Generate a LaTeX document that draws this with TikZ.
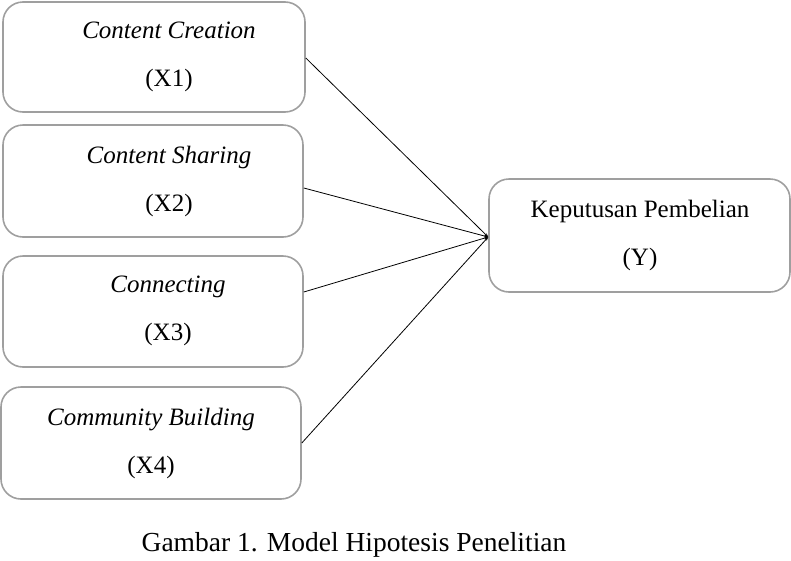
\documentclass[tikz,border=0pt]{standalone}
\usepackage{fontspec}
\setmainfont{Liberation Serif}
\usetikzlibrary{arrows.meta}
\begin{document}
\begin{tikzpicture}[
    x=1pt, y=-1pt,
    varbox/.style={draw=gray!75, line width=1.6pt, rounded corners=20pt,
        minimum width=300pt, minimum height=111pt, inner sep=0pt},
    vartext/.style={align=center, inner sep=0pt,
        font=\fontsize{25}{48}\selectfont},
    link/.style={-{Stealth[length=4pt,width=3pt]}, line width=0.8pt},
    every node/.style={font=\fontsize{25}{30}\selectfont}
]

\useasboundingbox (0,0) rectangle (791,560);

% variable boxes
\node[varbox, minimum width=302pt, minimum height=110pt] (x1) at (154,57) {};
\node[varbox, minimum height=112pt] (x2) at (153,181) {};
\node[varbox] (x3) at (153,311.5) {};
\node[varbox, minimum height=112pt] (x4) at (151,443) {};
\node[varbox, minimum width=301pt, minimum height=113pt] (y) at (639.5,235.5) {};

\node[vartext] (x1t) at (169,57) {\textit{Content Creation}\\(X1)};
\node[vartext] (x2t) at (169,181) {\textit{Content Sharing}\\(X2)};
\node[vartext] (x3t) at (168,311) {\textit{Connecting}\\(X3)};
\node[vartext] (x4t) at (151,443) {\textit{Community Building}\\(X4)};
\node[vartext] (yt) at (640,235) {Keputusan Pembelian\\(Y)};

% paths
\coordinate (tip) at ([yshift=-1.5pt]y.west);
\draw[link] ([yshift=-1pt]x1.east) -- (tip);
\draw[link] ([yshift=-7pt]x2.east) -- (tip);
\draw[link] ([yshift=19.5pt]x3.east) -- (tip);
\draw[link] (x4.east) -- (tip);

\node[font=\fontsize{27.5}{33}\selectfont] (caption) at (354,545)
    {Gambar 1. Model Hipotesis Penelitian};
\end{tikzpicture}
\end{document}
